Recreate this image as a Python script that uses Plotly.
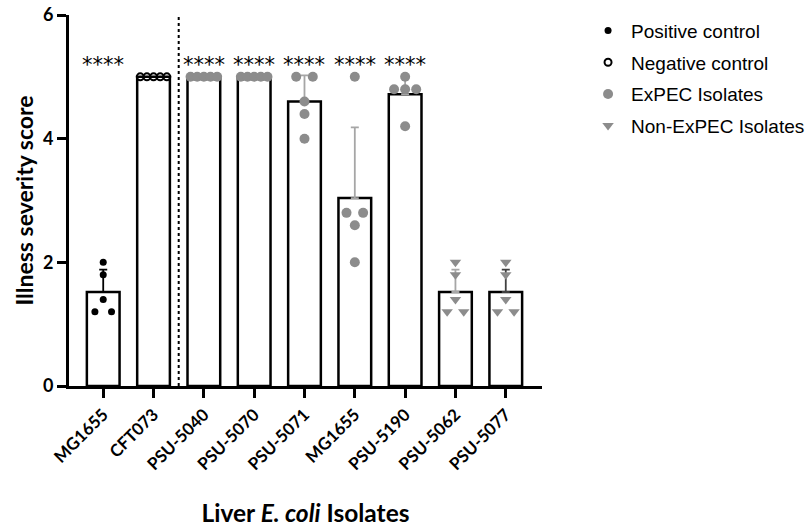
import numpy as np
import plotly.graph_objects as go

# ---------------- data ----------------
categories = ["MG1655", "CFT073", "PSU-5040", "PSU-5070", "PSU-5071",
              "MG1655", "PSU-5190", "PSU-5062", "PSU-5077"]
groups = ["Positive control", "Negative control", "ExPEC Isolates", "ExPEC Isolates",
          "ExPEC Isolates", "ExPEC Isolates", "ExPEC Isolates",
          "Non-ExPEC Isolates", "Non-ExPEC Isolates"]
scores_mg1655_pos = [2.0, 1.8, 1.4, 1.2, 1.2]
scores_cft073 = [5, 5, 5, 5, 5]
scores_psu5040 = [5, 5, 5, 5, 5]
scores_psu5070 = [5, 5, 5, 5, 5]
scores_psu5071 = [5, 5, 4.6, 4.4, 4.0]
scores_mg1655_liver = [5, 2.8, 2.8, 2.6, 2.0]
scores_psu5190 = [5, 4.8, 4.8, 4.8, 4.2]
scores_psu5062 = [2.0, 1.8, 1.4, 1.2, 1.2]
scores_psu5077 = [2.0, 1.8, 1.4, 1.2, 1.2]
significance = ["****", "", "****", "****", "****", "****", "****", "", ""]
y_ticks = [0, 2, 4, 6]

all_scores = [scores_mg1655_pos, scores_cft073, scores_psu5040, scores_psu5070,
              scores_psu5071, scores_mg1655_liver, scores_psu5190,
              scores_psu5062, scores_psu5077]

# ---------------- styles ----------------
group_style = {
    "Positive control": dict(symbol="circle", size=7, color="black",
                             line=dict(width=0, color="black")),
    "Negative control": dict(symbol="circle-open", size=7, color="black",
                             line=dict(width=2, color="black")),
    "ExPEC Isolates": dict(symbol="circle", size=10, color="#8c8c8c",
                           line=dict(width=0, color="#8c8c8c")),
    "Non-ExPEC Isolates": dict(symbol="triangle-down", size=10, color="#8c8c8c",
                               line=dict(width=0, color="#8c8c8c")),
}
err_colors = ["black", "black", "#a6a6a6", "#a6a6a6", "#a6a6a6", "#a6a6a6",
              "#a6a6a6", "#a6a6a6", "#404040"]

xpos = np.arange(len(categories))
means = [float(np.mean(s)) for s in all_scores]
sds = [float(np.std(s, ddof=1)) for s in all_scores]


def swarm_offsets(vals):
    vals = np.asarray(vals, dtype=float)
    offs = np.zeros(len(vals))
    for v in np.unique(vals):
        idx = np.where(np.isclose(vals, v))[0]
        n = len(idx)
        if n > 1:
            sp = 0.66 / n
            offs[idx] = (np.arange(n) - (n - 1) / 2) * sp
    return offs


fig = go.Figure()

# bars
fig.add_trace(go.Bar(x=xpos, y=means, width=0.65,
                     marker=dict(color="white", line=dict(color="black", width=2.5)),
                     showlegend=False, hoverinfo="skip"))

# error bars (upward SD only)
for i in range(len(categories)):
    if sds[i] > 1e-9:
        fig.add_trace(go.Scatter(
            x=[xpos[i]], y=[means[i]], mode="markers",
            marker=dict(size=1, opacity=0), showlegend=False, hoverinfo="skip",
            error_y=dict(type="data", symmetric=False, array=[sds[i]], arrayminus=[0],
                         color=err_colors[i], thickness=1.8, width=4)))

# points
order = ["Positive control", "Negative control", "ExPEC Isolates", "Non-ExPEC Isolates"]
for g in order:
    xs, ys = [], []
    for i, s in enumerate(all_scores):
        if groups[i] == g:
            offs = swarm_offsets(s)
            xs += list(xpos[i] + offs)
            ys += list(s)
    st = group_style[g]
    fig.add_trace(go.Scatter(
        x=xs, y=ys, mode="markers", name=g, legendgroup=g,
        marker=dict(symbol=st["symbol"], size=st["size"], color=st["color"],
                    line=st["line"])))

# significance stars
for i, lab in enumerate(significance):
    if lab:
        fig.add_annotation(x=xpos[i], y=5.24, text=lab, showarrow=False,
                           font=dict(family="DejaVu Sans", size=21, color="black"),
                           xanchor="center", yanchor="middle", yshift=-3)

# dotted separator
fig.add_shape(type="line", x0=1.5, x1=1.5, y0=0, y1=6, xref="x", yref="y",
              line=dict(color="black", width=2, dash="dot"))

fig.update_layout(
    width=812, height=527,
    margin=dict(l=69, r=270, t=15, b=140.5, pad=0, autoexpand=False),
    plot_bgcolor="white", paper_bgcolor="white",
    font=dict(family="Lato", color="black"),
    legend=dict(x=1.091, y=1.009, xanchor="left", yanchor="top",
                font=dict(family="Liberation Sans", size=19, color="black"),
                traceorder="grouped", tracegroupgap=4, itemwidth=36,
                bgcolor="rgba(0,0,0,0)"),
    xaxis=dict(range=[-0.68, 8.72], tickmode="array", tickvals=list(xpos),
               ticktext=categories, tickangle=-45,
               tickfont=dict(family="Lato", size=17, weight="bold"),
               ticks="outside", ticklen=9, tickwidth=3, tickcolor="black",
               showline=True, linewidth=3, linecolor="black",
               showgrid=False, zeroline=False, automargin=False,
               title=dict(text="Liver <i>E. coli</i> Isolates",
                          font=dict(family="Lato", size=24.5, weight="bold"),
                          standoff=34)),
    yaxis=dict(range=[0, 6], tickmode="array", tickvals=y_ticks,
               tickfont=dict(family="Lato", size=18, weight="bold"),
               ticks="outside", ticklen=9, tickwidth=3, tickcolor="black",
               showline=True, linewidth=3, linecolor="black",
               showgrid=False, zeroline=False, automargin=False,
               title=dict(text="Illness severity score",
                          font=dict(family="Lato", size=23, weight="bold"),
                          standoff=3)),
    bargap=0.35,
)

fig.write_html("out.html")
